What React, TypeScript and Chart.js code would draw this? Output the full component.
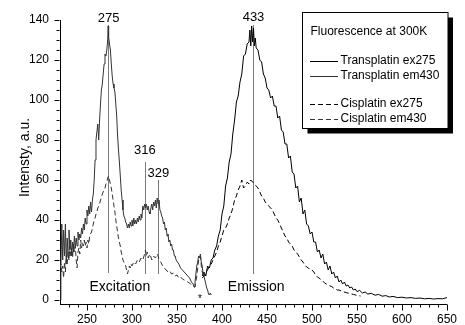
import React, { useEffect, useRef } from 'react';
import { Chart, registerables } from 'chart.js';

Chart.register(...registerables);

const FONT = '"Liberation Sans", Arial, Helvetica, sans-serif';

// ---- series (wavelength nm, intensity a.u.) ----
const transEm430: number[][] = [
  [220,0],[221,17],[222,38],[223,20],[224,35],[225,22],[226,38],[227,18],[228,31],[229,21],[230,35],[231,25],[232,30],[233,22],[234,29],[235,24],[236,32],[237,26],[238,31],[239,27],[240,34],[241,30],[242,33],[243,31],[244,36],[245,33],[246,38],[247,35],[248,41],[249,38],[250,45],[251,42],[252,47],[253,43],[254,49],[255,44],[256,50],[257,53],[258,60],[259,70],[260,80],[261,84],[262,88],[263,80],[264,90],[265,98],[266,105],[267,108],[268,113],[269,118],[270,123],[271,122],[272,125],[273,130],[273.5,137],[274,132],[275,128],[276,125],[277,118],[278,112],[279,108],[280,106],[281,104],[282,98],[283,92],[284,82],[285,75],[286,69],[287,62],[288,55],[289,50],[290,45],[291,42],[292,41],[293,39],[294,38],[295,36],[296,38],[297,36],[298,39],[299,37],[300,40],[301,37],[302,41],[303,38],[304,40],[305,38],[306,41],[307,39],[308,42],[309,40],[310,43],[311,41],[312,47],[313,45],[314,48],[315,46],[316,48],[317,45],[318,47],[319,44],[320,43],[321,46],[322,48],[323,45],[324,49],[325,47],[326,50],[327,46],[328,51],[329,48],[330,50],[331,45],[332,44],[333,42],[334,41],[335,38],[336,39],[337,35],[338,36],[339,32],[340,33],[341,29],[342,30],[343,27],[344,28],[345,25],[346,25],[347,22],[348,22],[349,20],[350,20],[352,18],[354,16],[356,15],[358,14],[360,13],[362,12],[364,11],[366,9],[368,8],[369,6.5],[370,9],[371,13],[372,17],[373,19],[374,22],[375,21],[376,23],[377,19],[378,17],[379,13],[380,12],[381,10],[382,8],[383,6],[384,5],[385,3],[386,2.5],[387,3.5],[388,2.5]
];

const transEx275: number[][] = [
  [378,12],[380,14],[382,12],[384,17],[386,16],[388,20],[390,21],[392,25],[394,27],[396,32],[398,35],[400,43],[402,47],[404,57],[406,61],[408,69],[410,73],[412,83],[414,90],[416,99],[418,102],[420,109],[422,113],[424,122],[426,123],[428,128],[430,129],[431,135],[432,127],[433,137],[434,129],[435,136],[436,127],[437,131],[438,126],[440,125],[442,120],[444,119],[446,113],[448,111],[450,106],[452,105],[454,101],[456,102],[458,97],[460,97],[462,91],[464,92],[466,85],[468,84],[470,78],[472,78],[474,71],[476,72],[478,64],[480,63],[482,56],[484,57],[486,49],[488,51],[490,43],[492,45],[494,38],[496,37],[498,33],[500,34],[502,29],[504,29],[506,24],[508,25],[510,21],[512,23],[514,18],[516,19],[518,15],[520,17],[522,13],[524,14],[526,11],[528,12],[530,9],[532,10],[534,8],[536,9],[538,7],[540,7.5],[542,6],[544,6.5],[546,5],[548,5.5],[550,4.2],[553,4.8],[556,3.5],[559,4],[562,3],[566,3.3],[570,2.4],[574,2.8],[578,1.9],[582,2.2],[586,1.5],[590,1.8],[595,1.2],[600,1.4],[605,1],[610,1.2],[615,0.8],[620,1],[625,0.6],[630,0.8],[635,0.5],[640,0.7],[645,0.6],[650,1.2]
];

const cisEm430: number[][] = [
  [220,16],[221,18],[222,14],[223,17],[224,11],[225,19],[226,14],[227,22],[228,18],[229,24],[230,20],[231,27],[232,22],[233,26],[234,21],[235,28],[236,24],[237,27],[238,20],[239,16],[240,24],[241,26],[242,23],[243,30],[244,26],[245,29],[246,27],[247,30],[248,27],[249,29],[250,26],[251,30],[252,28],[253,32],[254,33],[255,34],[256,36],[257,38],[258,40],[259,41],[260,43],[261,44],[262,46],[263,47],[264,48],[265,50],[266,51],[267,53],[268,54],[269,55],[270,56],[271,58],[272,59],[273,61],[274,62],[275,60],[276,58],[277,56],[278,53],[279,50],[280,47],[281,44],[282,40],[283,37],[284,34],[285,31],[286,29],[287,27],[288,24],[289,22],[290,20],[291,19],[292,18],[293,17],[294,15],[295,13],[296,15],[297,17],[298,16],[299,18],[300,17],[302,19],[304,18],[306,20],[308,19],[310,21],[312,20],[314,23],[315,25],[316,22],[317,24],[318,21],[320,23],[322,20],[324,22],[326,21],[328,23],[329,22],[330,20],[332,19],[334,17],[336,16],[338,15],[340,14],[342,14.5],[344,13],[346,13.5],[348,12],[350,12.5],[352,11],[354,11.5],[356,10.5],[358,10],[360,9.5],[362,9],[364,8.5],[366,7.5],[368,7],[370,6.5],[372,12],[374,20],[376,22],[377,17],[378,14],[380,12]
];

const cisEx275: number[][] = [
  [378,11],[380,12],[382,14],[384,15],[386,17],[388,18],[390,20],[392,22],[394,24],[396,27],[398,29],[400,32],[402,35],[404,36],[406,38],[408,41],[410,43],[412,46],[414,50],[416,52],[418,55],[420,57],[422,60],[424,56],[426,57],[428,59],[430,58],[432,60],[434,59],[436,58],[438,57],[440,56],[442,54],[444,52],[446,51],[448,49],[450,48],[452,47],[454,46],[456,45],[458,43],[460,41],[462,40],[464,38],[466,36],[468,34],[470,32],[472,31],[474,29],[476,28],[478,27],[480,25],[482,24],[484,23],[486,21.5],[488,20],[490,19],[492,17.5],[494,16.5],[496,16],[498,15],[500,15],[502,14],[504,12.5],[506,11.5],[508,11],[510,10],[512,9.5],[514,8.5],[516,8],[518,7.5],[520,7],[522,6.7],[524,6],[526,5.5],[528,5],[530,5],[534,4.2],[538,3.7],[542,3.2],[546,2.8],[550,2.3],[554,2]
];

// ---- axes ----
const xTickValues = [250, 300, 350, 400, 450, 500, 550, 600, 650];
const yTickValues = [0, 20, 40, 60, 80, 100, 120, 140];
const xRange = [220, 650];
const yRange = [-2, 140];
const xMinorStep = 10;
const yMinorStep = 5;

// ---- annotations ----
const peakLabels = ['275', '316', '329', '433'];
const peakLineX = [273.3, 314.3, 328.9, 434.2];
const peakLineTop = [137.5, 69, 60, 137.5];
const peakLineBottom = [13.5, 13, 13, 13];
const peakLabelX = [274, 314.3, 329.3, 435];
const peakLabelY = [141, 75, 63.5, 141.5];
const regionLabels = ['Excitation', 'Emission'];
const regionLabelX = [286.5, 438];
const regionLabelY = [6.5, 6.5];
const starPos = [375.5, 1.5];

const legendTitle = 'Fluorescence at 300K';

function toPts(arr: number[][]) {
  return arr.map(([x, y]) => ({ x, y }));
}

const decorPlugin = {
  id: 'decor',
  beforeDatasetsDraw(chart: any) {
    const { ctx, scales } = chart;
    const xs = scales.x, ys = scales.y;
    ctx.save();
    ctx.strokeStyle = '#7a7a7a';
    ctx.lineWidth = 1;
    peakLineX.forEach((v, i) => {
      const px = Math.round(xs.getPixelForValue(v)) + 0.5;
      ctx.beginPath();
      ctx.moveTo(px, ys.getPixelForValue(peakLineTop[i]));
      ctx.lineTo(px, ys.getPixelForValue(peakLineBottom[i]));
      ctx.stroke();
    });
    ctx.restore();
  },
  afterDraw(chart: any) {
    const { ctx, scales } = chart;
    const xs = scales.x, ys = scales.y;
    ctx.save();
    ctx.strokeStyle = '#000';
    ctx.lineWidth = 1;
    // x ticks
    const xb = Math.round(ys.getPixelForValue(yRange[0])) + 0.5;
    for (let v = xRange[0] + xMinorStep; v <= xRange[1]; v += xMinorStep) {
      const major = v % 50 === 0;
      const px = Math.round(xs.getPixelForValue(v)) + 0.5;
      ctx.beginPath();
      ctx.moveTo(px, xb);
      ctx.lineTo(px, xb + (major ? 6 : 3));
      ctx.stroke();
    }
    // y ticks
    const yl = Math.round(xs.getPixelForValue(xRange[0])) - 0.5;
    for (let v = 0; v <= yRange[1]; v += yMinorStep) {
      const major = v % 20 === 0;
      const py = Math.round(ys.getPixelForValue(v)) + 0.5;
      ctx.beginPath();
      ctx.moveTo(yl, py);
      ctx.lineTo(yl - (major ? 5 : 3), py);
      ctx.stroke();
    }
    // peak labels
    ctx.fillStyle = '#000';
    ctx.textAlign = 'center';
    ctx.textBaseline = 'middle';
    ctx.font = `13px ${FONT}`;
    peakLabels.forEach((t, i) => {
      ctx.fillText(t, xs.getPixelForValue(peakLabelX[i]), ys.getPixelForValue(peakLabelY[i]));
    });
    ctx.font = `14px ${FONT}`;
    regionLabels.forEach((t, i) => {
      ctx.fillText(t, xs.getPixelForValue(regionLabelX[i]), ys.getPixelForValue(regionLabelY[i]));
    });
    ctx.font = `10px ${FONT}`;
    ctx.fillText('*', xs.getPixelForValue(starPos[0]), ys.getPixelForValue(starPos[1]) + 2);
    // y title
    ctx.save();
    ctx.font = `14px ${FONT}`;
    ctx.translate(25, (ys.top + ys.bottom) / 2 - 4.5);
    ctx.rotate(-Math.PI / 2);
    ctx.fillText('Intensty, a.u.', 0, 0);
    ctx.restore();
    // legend
    const bx = 302.5, by = 12.5, bw = 145.5, bh = 116;
    ctx.fillStyle = '#000';
    ctx.fillRect(bx + 5, by + 5, bw, bh);
    ctx.fillStyle = '#fff';
    ctx.fillRect(bx, by, bw, bh);
    ctx.strokeStyle = '#000';
    ctx.strokeRect(bx, by, bw, bh);
    ctx.fillStyle = '#000';
    ctx.textAlign = 'left';
    ctx.font = `12px ${FONT}`;
    ctx.fillText(legendTitle, 310.5, 31.5);
    const rowsY = [61, 75.5, 104, 118.5];
    const order = [1, 0, 3, 2];
    order.forEach((di, r) => {
      const ds = chart.data.datasets[di];
      const y = Math.round(rowsY[r]) + 0.5;
      ctx.save();
      ctx.strokeStyle = ds.borderColor;
      ctx.lineWidth = 1;
      ctx.setLineDash(ds.borderDash || []);
      ctx.beginPath();
      ctx.moveTo(310, y);
      ctx.lineTo(338, y);
      ctx.stroke();
      ctx.restore();
      ctx.fillText(ds.label, 340.5, rowsY[r]);
    });
    ctx.restore();
  },
};

export default function App() {
  const ref = useRef<HTMLCanvasElement | null>(null);
  useEffect(() => {
    if (!ref.current) return;
    const common = { pointRadius: 0, borderWidth: 1, tension: 0, fill: false };
    const chart = new Chart(ref.current, {
      type: 'line',
      data: {
        datasets: [
          { label: 'Transplatin em430', data: toPts(transEm430), borderColor: '#333333', ...common },
          { label: 'Transplatin ex275', data: toPts(transEx275), borderColor: '#000000', ...common },
          { label: 'Cisplatin em430', data: toPts(cisEm430), borderColor: '#333333', borderDash: [5, 3], ...common },
          { label: 'Cisplatin ex275', data: toPts(cisEx275), borderColor: '#000000', borderDash: [5, 3], ...common },
        ],
      },
      options: {
        animation: false,
        responsive: false,
        maintainAspectRatio: false,
        layout: { padding: { left: 0, top: 20, right: 17, bottom: 0 } },
        plugins: { legend: { display: false }, tooltip: { enabled: false }, title: { display: false } },
        scales: {
          x: {
            type: 'linear',
            min: xRange[0],
            max: xRange[1],
            grid: { display: false, drawTicks: false, tickLength: 0 },
            border: { display: true, color: '#000', width: 1 },
            afterBuildTicks: (s: any) => { s.ticks = xTickValues.map((v) => ({ value: v })); },
            afterFit: (s: any) => { s.height = 21; },
            ticks: { color: '#000', font: { family: FONT, size: 12 }, padding: 8, maxRotation: 0, autoSkip: false },
          },
          y: {
            type: 'linear',
            min: yRange[0],
            max: yRange[1],
            grid: { display: false, drawTicks: false, tickLength: 0 },
            border: { display: true, color: '#000', width: 1 },
            afterBuildTicks: (s: any) => { s.ticks = yTickValues.map((v) => ({ value: v })); },
            afterFit: (s: any) => { s.width = 60; },
            ticks: { color: '#000', font: { family: FONT, size: 12 }, padding: 11, autoSkip: false },
          },
        },
      },
      plugins: [decorPlugin],
    });
    return () => chart.destroy();
  }, []);
  return (
    <div style={{ position: 'absolute', left: 0, top: 0, width: 465, height: 325, background: '#fff' }}>
      <canvas ref={ref} width={465} height={325} style={{ display: 'block' }} />
    </div>
  );
}
